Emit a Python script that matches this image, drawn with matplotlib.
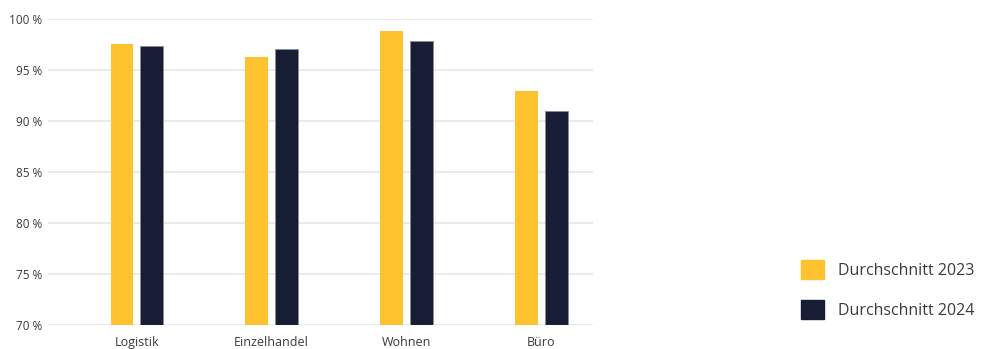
import matplotlib.pyplot as plt
import numpy as np
from matplotlib.patches import Patch

plt.rcParams['font.family'] = ['Open Sans', 'DejaVu Sans']

# Data
categories = ['Logistik', 'Einzelhandel', 'Wohnen', 'Büro']
avg_2023 = [97.55, 96.3, 98.8, 92.95]
avg_2024 = [97.35, 97.05, 97.85, 91.0]
series_labels = ['Durchschnitt 2023', 'Durchschnitt 2024']
yticks = [70, 75, 80, 85, 90, 95, 100]

yellow = '#FDC22D'
navy = '#181D36'

fig = plt.figure(figsize=(9.87, 3.49), dpi=100)
ax = fig.add_axes([48 / 987, 24 / 349, 545 / 987, 306 / 349])

x = np.arange(len(categories))
w = 0.17
off = 0.111
ax.bar(x - off, avg_2023, w, color=yellow, zorder=3)
ax.bar(x + off, avg_2024, w, color=navy, edgecolor='#8a8d99', linewidth=0.6, zorder=3)

ax.set_ylim(70, 100)
ax.set_xlim(-0.66, 3.385)
ax.set_yticks(yticks)
ax.set_yticklabels([f'{t} %' for t in yticks])
ax.set_xticks(x)
ax.set_xticklabels(categories)
ax.yaxis.grid(True, color='#e6e6e6', linewidth=1.2, zorder=0)
ax.tick_params(axis='both', length=0, labelsize=8.5, colors='#3a3a3a')
ax.tick_params(axis='y', pad=4)
ax.tick_params(axis='x', pad=8, labelsize=9)
for s in ax.spines.values():
    s.set_visible(False)

handles = [Patch(color=yellow), Patch(color=navy)]
fig.legend(handles, series_labels, loc='upper left', bbox_to_anchor=(787 / 987, 1 - 246 / 349),
           frameon=False, fontsize=11.5, handlelength=1.4, handleheight=1.45,
           handletextpad=0.9, labelspacing=1.3, labelcolor='#3a3a3a')

fig.savefig('out.png', dpi=100)
